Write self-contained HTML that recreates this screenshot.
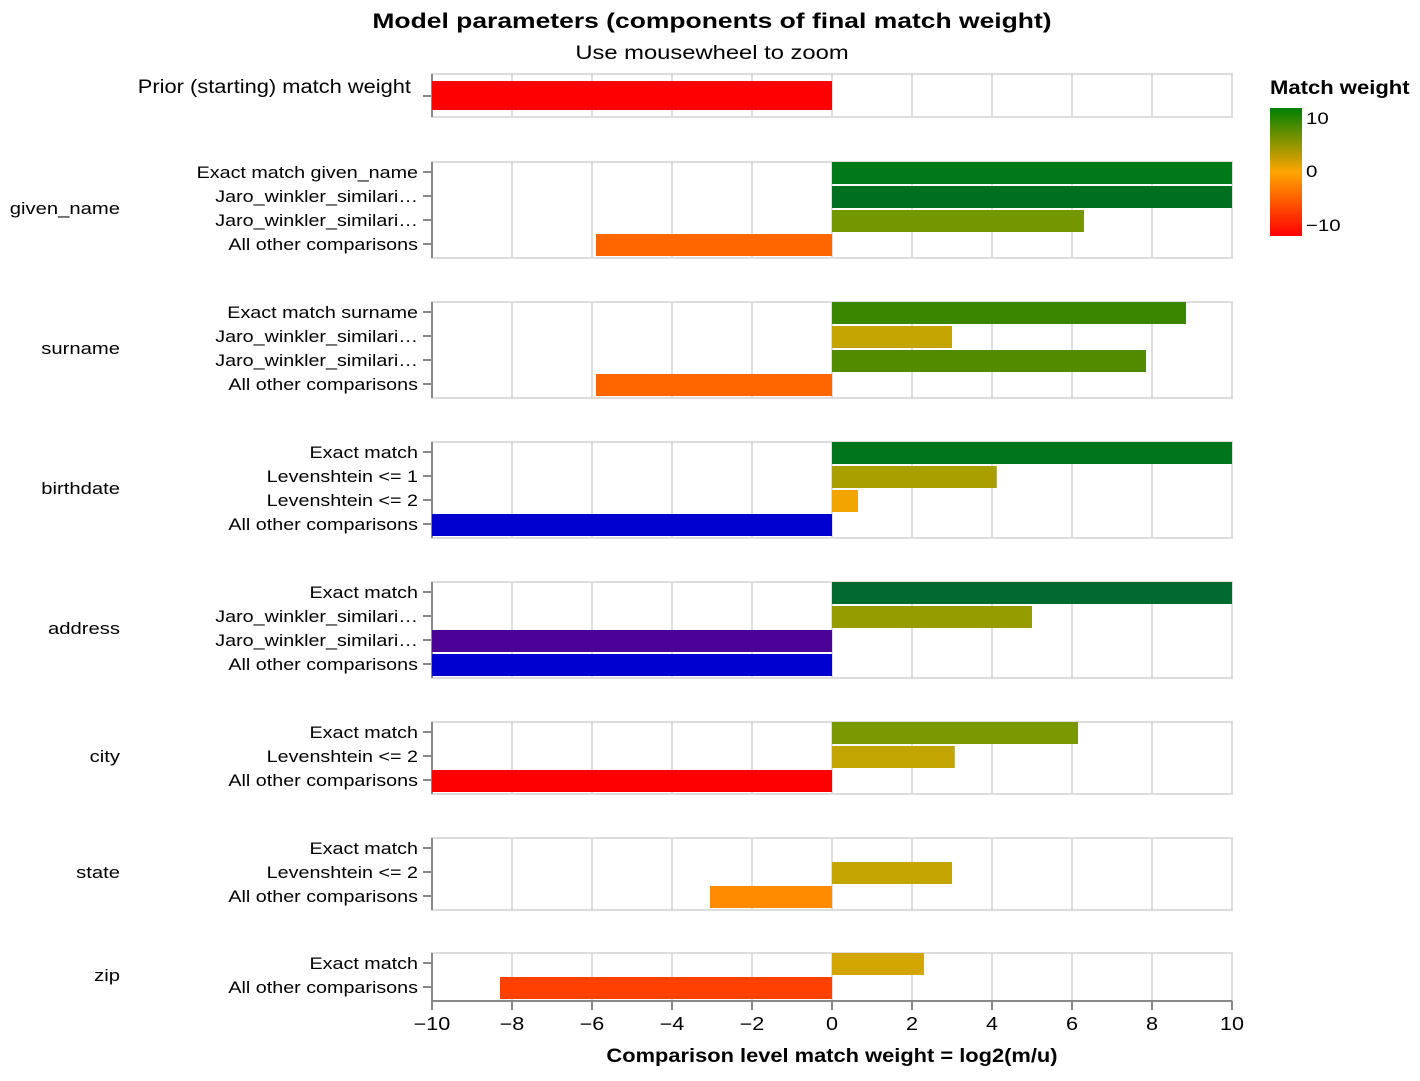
<!DOCTYPE html>
<html><head><meta charset="utf-8"><style>
body{margin:0;background:#fff;font-family:"Liberation Sans",Arial,sans-serif}
svg text{font-family:"Liberation Sans",Arial,sans-serif}
</style></head><body>
<svg id="c" width="1420" height="1076" viewBox="0 0 1420 1076" xmlns="http://www.w3.org/2000/svg">
<text class="st" data-k="1.26" x="712" y="28" text-anchor="middle" font-size="21" font-weight="bold" fill="#000">Model parameters (components of final match weight)</text>
<text class="st" data-k="1.25" x="712" y="59" text-anchor="middle" font-size="19" fill="#000">Use mousewheel to zoom</text>
<defs><linearGradient id="lg" x1="0" y1="1" x2="0" y2="0"><stop offset="0" stop-color="#ff0000"/><stop offset="0.5" stop-color="#ffa500"/><stop offset="1" stop-color="#008000"/></linearGradient></defs>
<g>
<text class="st" data-k="1.16" x="1270" y="94" font-size="19" font-weight="bold">Match weight</text>
<rect x="1270" y="108" width="32" height="128" fill="url(#lg)"/>
<text class="st" data-k="1.2" x="1306" y="124" font-size="17">10</text>
<text class="st" data-k="1.2" x="1306" y="177" font-size="17">0</text>
<text class="st" data-k="1.2" x="1306" y="231" font-size="17">−10</text>
</g>
<g id="plot"></g>
</svg>
<script>
const groups=["Prior","given_name","surname","birthdate","address","city","state","zip"];
const groupLabels=["","given_name","surname","birthdate","address","city","state","zip"];
const levels=[
 ["Prior (starting) match weight"],
 ["Exact match given_name","Jaro_winkler_similari…","Jaro_winkler_similari…","All other comparisons"],
 ["Exact match surname","Jaro_winkler_similari…","Jaro_winkler_similari…","All other comparisons"],
 ["Exact match","Levenshtein <= 1","Levenshtein <= 2","All other comparisons"],
 ["Exact match","Jaro_winkler_similari…","Jaro_winkler_similari…","All other comparisons"],
 ["Exact match","Levenshtein <= 2","All other comparisons"],
 ["Exact match","Levenshtein <= 2","All other comparisons"],
 ["Exact match","All other comparisons"]];
const weights=[
 [-10.5],
 [11,13,6.3,-5.9],
 [8.85,3.0,7.85,-5.9],
 [12,4.12,0.65,-16],
 [14,5.0,-13,-16],
 [6.15,3.07,-10.5],
 [null,3.0,-3.05],
 [2.3,-8.3]];
const xTicks=[-10,-8,-6,-4,-2,0,2,4,6,8,10];
const panelTops=[74,162,302,442,582,722,838,953];
const X0=432,X1=1232;
const x=v=>X0+(Math.max(-10,Math.min(10,v))+10)/20*(X1-X0);
const stops=[[-16,[0,0,208]],[-13,[75,0,150]],[-10.5,[255,0,0]],[-10,[255,10,0]],[-8.3,[255,64,0]],[-5.9,[255,102,0]],[-3.05,[255,140,0]],[0,[255,165,0]],[3,[196,165,0]],[6.3,[116,150,0]],[8.85,[58,134,0]],[10,[0,128,0]],[11,[0,122,24]],[13,[0,112,32]],[14,[0,106,48]]];
function col(v){if(v<=stops[0][0])return"rgb(0,0,208)";for(let i=1;i<stops.length;i++){if(v<=stops[i][0]){const a=stops[i-1],b=stops[i],t=(v-a[0])/(b[0]-a[0]);return"rgb("+a[1].map((c,k)=>Math.round(c+(b[1][k]-c)*t)).join(",")+")";}}return"rgb(0,106,48)";}
const NS="http://www.w3.org/2000/svg",plot=document.getElementById("plot");
function mk(t,a,p){const e=document.createElementNS(NS,t);for(const k in a)e.setAttribute(k,a[k]);(p||plot).appendChild(e);return e;}
groups.forEach((g,gi)=>{
 const T=panelTops[gi],n=levels[gi].length,H=gi===0?43:24*n;
 const pg=mk("g",{});
 
 
 xTicks.forEach(t=>{const l=mk("line",{x1:x(t),x2:x(t),y1:T,y2:T+H,stroke:"#ddd","stroke-width":2},pg);
  
  });
 const fr=mk("rect",{x:X0,y:T,width:X1-X0,height:H,fill:"none",stroke:"#ddd","stroke-width":2},pg);
 
 
 mk("line",{x1:X0,x2:X0,y1:T,y2:T+H,stroke:"#888","stroke-width":2},pg);
 levels[gi].forEach((lab,i)=>{
  const v=weights[gi][i];
  let by,bh,cy;
  if(gi===0){by=T+7;bh=29;cy=T+22;}else{by=T+24*i;bh=22;cy=T+10+24*i;}
  if(v!==null){const b=mk("rect",{x:Math.min(x(0),x(v)),y:by,width:Math.abs(x(v)-x(0)),height:bh,fill:col(v)},pg);
   
   }
  mk("line",{x1:X0-9,x2:X0,y1:cy,y2:cy,stroke:"#888","stroke-width":2},pg);
  const tx=mk("text",{x:gi===0?411:418,y:gi===0?T+19:cy+6,"text-anchor":"end","font-size":gi===0?19:17,"class":"st","data-k":gi===0?"1.15":"1.16"},pg);
  tx.textContent=lab;
  
  
 });
 if(groupLabels[gi]){const gl=mk("text",{x:120,y:T+H/2+4,"text-anchor":"end","font-size":17,"class":"st","data-k":"1.19"},pg);
  gl.textContent=groupLabels[gi];
  
  }
 if(gi===groups.length-1){
  mk("line",{x1:X0,x2:X1,y1:T+H,y2:T+H,stroke:"#888","stroke-width":2},pg);
  xTicks.forEach(t=>{mk("line",{x1:x(t),x2:x(t),y1:T+H,y2:T+H+9,stroke:"#888","stroke-width":2},pg);
   const tl=mk("text",{x:x(t),y:T+H+29,"text-anchor":"middle","font-size":18,"class":"st","data-k":"1.2"},pg);
   tl.textContent=(t<0?"−":"")+Math.abs(t);
   
   });
  const at=mk("text",{x:832,y:1062,"text-anchor":"middle","font-size":19,"font-weight":"bold","class":"st","data-k":"1.15"},pg);
  at.textContent="Comparison level match weight = log2(m/u)";
  
  
 }
});
document.querySelectorAll("text.st").forEach(t=>{const k=parseFloat(t.getAttribute("data-k"));const L=t.getComputedTextLength();t.setAttribute("textLength",(L*k).toFixed(1));t.setAttribute("lengthAdjust","spacingAndGlyphs");});
</script>
</body></html>
